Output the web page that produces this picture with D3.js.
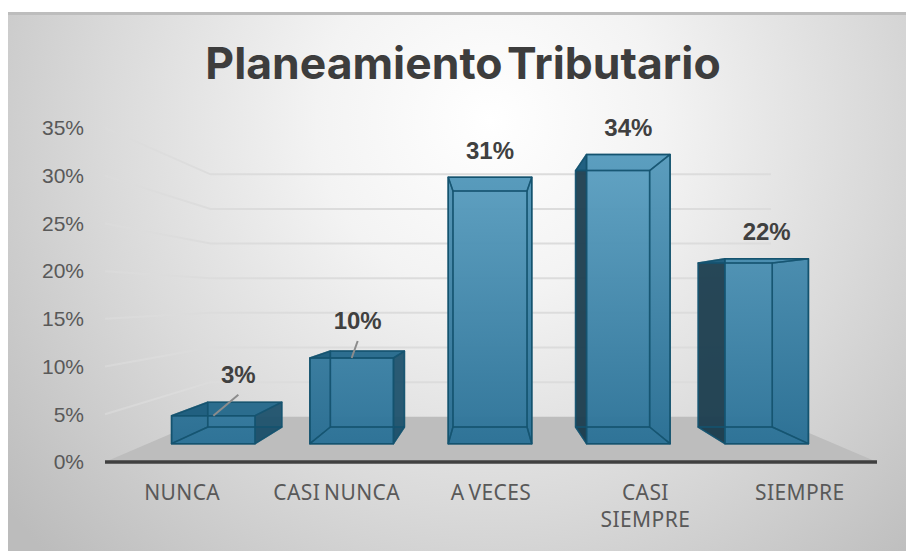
<!DOCTYPE html>
<html>
<head>
<meta charset="utf-8">
<script src="https://cdn.jsdelivr.net/npm/d3@7"></script>
<style>
    html, body { margin: 0; padding: 0; background: #fff; overflow: hidden; }
</style>
</head>
<body>
<div id="chart"></div>
<script>
const categories = ["NUNCA", "CASI NUNCA", "A VECES", "CASI SIEMPRE", "SIEMPRE"];
const values = [0.033, 0.101, 0.314, 0.341, 0.218];
const yTicks = [0, 0.05, 0.10, 0.15, 0.20, 0.25, 0.30, 0.35];

const width = 906;
const height = 551;

// Front plane of the fake 3D box, everything else is projected towards the vanishing point
const plot = { left: 105, right: 877, top: 128, bottom: 462 };
const vp = { x: 490, y: 297 };
const backScale = 0.726;    // back wall
const barFront = 0.889;     // depth of front of the bars
const barBack = 0.788;      // depth of back of the bars

const svg = d3.select("#chart").append("svg")
    .attr("width", width)
    .attr("height", height)
    .style("display", "block");

const x = d3.scaleBand().domain(categories).range([plot.left, plot.right]);
const xBar = d3.scaleBand().domain(categories).range([101, 879])
    .paddingInner(0.396).paddingOuter(0.198);
const y = d3.scaleLinear().domain([0, 0.35]).range([plot.bottom, plot.top]);
const pct = d3.format(".0%");

function project(px, py, s) {
    return [vp.x + (px - vp.x) * s, vp.y + (py - vp.y) * s];
}

const defs = svg.append("defs");

const bg = defs.append("radialGradient").attr("id", "bg")
    .attr("gradientUnits", "userSpaceOnUse")
    .attr("cx", 490).attr("cy", 120).attr("r", 620);
bg.append("stop").attr("offset", "0%").attr("stop-color", "#ffffff");
bg.append("stop").attr("offset", "28%").attr("stop-color", "#f3f3f3");
bg.append("stop").attr("offset", "62%").attr("stop-color", "#dadada");
bg.append("stop").attr("offset", "100%").attr("stop-color", "#bcbcbc");

const barGrad = defs.append("linearGradient").attr("id", "barFill")
    .attr("gradientUnits", "userSpaceOnUse")
    .attr("x1", 0).attr("x2", 0).attr("y1", 150).attr("y2", 450);
barGrad.append("stop").attr("offset", "0%").attr("stop-color", "#5fa2c3");
barGrad.append("stop").attr("offset", "100%").attr("stop-color", "#2c7297");

const gridFade = defs.append("linearGradient").attr("id", "gridFade")
    .attr("gradientUnits", "userSpaceOnUse")
    .attr("x1", plot.left).attr("x2", 210).attr("y1", 0).attr("y2", 0);
gridFade.append("stop").attr("offset", "0%").attr("stop-color", "#dcdcdc").attr("stop-opacity", 0.6);
gridFade.append("stop").attr("offset", "100%").attr("stop-color", "#dcdcdc");

svg.append("rect")
    .attr("x", 8).attr("y", 12)
    .attr("width", width - 8).attr("height", height - 12)
    .attr("fill", "url(#bg)");

svg.append("rect")
    .attr("x", 8).attr("y", 12)
    .attr("width", width - 8).attr("height", 3)
    .attr("fill", "#bdbdbd");

svg.append("text")
    .attr("x", 463).attr("y", 79)
    .attr("text-anchor", "middle")
    .attr("font-family", "Inter")
    .attr("font-weight", 700)
    .attr("font-size", 44.5)
    .attr("word-spacing", -6)
    .attr("fill", "#3d3d3d")
    .text("Planeamiento Tributario");

// Floor
const line = d3.line();
const floorCorners = [
    [plot.left, plot.bottom],
    [plot.right, plot.bottom],
    project(plot.right, plot.bottom, backScale),
    project(plot.left, plot.bottom, backScale)
];
svg.append("path")
    .attr("d", line(floorCorners) + "Z")
    .attr("fill", "#bdbdbd");

// Gridlines: left wall then back wall
svg.append("g")
    .selectAll("path")
    .data(yTicks.filter(d => d > 0))
    .enter()
    .append("path")
    .attr("d", d => line([
        [plot.left, y(d)],
        project(plot.left, y(d), backScale),
        project(plot.right, y(d), backScale)
    ]))
    .attr("fill", "none")
    .attr("stroke", "url(#gridFade)")
    .attr("stroke-width", 2);

// Y axis
const yAxis = svg.append("g")
    .attr("transform", "translate(84,0)")
    .call(d3.axisLeft(y).tickValues(yTicks).tickFormat(pct).tickSize(0).tickPadding(0));
yAxis.select(".domain").remove();
yAxis.selectAll("text")
    .attr("font-family", "Liberation Sans")
    .attr("font-size", 21)
    .attr("fill", "#595959");

// Bars, the front face goes nearly opaque on top of the others and
// the edges are drawn last so the rear ones still show through
function faces(d, i) {
    const x0 = xBar(d);
    const x1 = x0 + xBar.bandwidth();
    const y0 = y(0);
    const y1 = y(values[i]);
    const c = project;
    const f = barFront;
    const b = barBack;
    return [
        { pts: [c(x0, y0, b), c(x1, y0, b), c(x1, y1, b), c(x0, y1, b)], fill: "url(#barFill)", op: 0.6 },
        { pts: [c(x0, y0, f), c(x1, y0, f), c(x1, y0, b), c(x0, y0, b)], fill: "#1f5f80", op: 0.7 },
        { pts: [c(x0, y0, f), c(x0, y1, f), c(x0, y1, b), c(x0, y0, b)], fill: "#1c3b4a", op: 0.9 },
        { pts: [c(x1, y0, f), c(x1, y1, f), c(x1, y1, b), c(x1, y0, b)], fill: "#1a4c66", op: 0.85 },
        { pts: [c(x0, y1, f), c(x1, y1, f), c(x1, y1, b), c(x0, y1, b)], fill: "#1f6487", op: 0.85 },
        { pts: [c(x0, y0, f), c(x1, y0, f), c(x1, y1, f), c(x0, y1, f)], fill: "url(#barFill)", op: 0.93 }
    ];
}

const bars = svg.append("g")
    .selectAll("g")
    .data(categories)
    .enter()
    .append("g");

bars.selectAll("path.face")
    .data((d, i) => faces(d, i))
    .enter()
    .append("path")
    .attr("class", "face")
    .attr("d", d => line(d.pts) + "Z")
    .attr("fill", d => d.fill)
    .attr("fill-opacity", d => d.op)
    .attr("stroke", "none");

bars.selectAll("path.edge")
    .data((d, i) => faces(d, i))
    .enter()
    .append("path")
    .attr("class", "edge")
    .attr("d", d => line(d.pts) + "Z")
    .attr("fill", "none")
    .attr("stroke", "#14536f")
    .attr("stroke-opacity", (d, i) => i == 5 ? 1 : 0.75)
    .attr("stroke-width", 1.5)
    .attr("stroke-linejoin", "round");

// Axis line
svg.append("line")
    .attr("x1", plot.left).attr("x2", plot.right)
    .attr("y1", y(0)).attr("y2", y(0))
    .attr("stroke", "#404040")
    .attr("stroke-width", 3.5);

// Data labels, the two short bars have theirs pulled away with a leader line
const labelShift = { "NUNCA": [25, -41], "CASI NUNCA": [6, -37] };

function labelPos(d, i) {
    const p = project(xBar(d) + xBar.bandwidth() / 2, y(values[i]), barFront);
    const shift = labelShift[d] || [0, -27];
    return { top: p, x: p[0] + shift[0], y: p[1] + shift[1] };
}

svg.append("g")
    .selectAll("path")
    .data(categories.filter(d => labelShift[d]))
    .enter()
    .append("path")
    .attr("d", d => {
        const l = labelPos(d, categories.indexOf(d));
        return line([l.top, [l.x, l.y + 20]]);
    })
    .attr("stroke", "#8c8c8c")
    .attr("stroke-width", 2)
    .attr("fill", "none");

svg.append("g")
    .selectAll("text")
    .data(categories)
    .enter()
    .append("text")
    .attr("x", (d, i) => labelPos(d, i).x)
    .attr("y", (d, i) => labelPos(d, i).y)
    .attr("dy", "0.35em")
    .attr("text-anchor", "middle")
    .attr("font-family", "Liberation Sans")
    .attr("font-weight", "bold")
    .attr("font-size", 24)
    .attr("fill", "#404040")
    .text((d, i) => pct(values[i]));

// X axis
const xAxis = svg.append("g")
    .attr("transform", "translate(0,485)")
    .call(d3.axisBottom(x).tickSize(0).tickPadding(0));
xAxis.select(".domain").remove();
xAxis.selectAll("text")
    .attr("font-family", "Noto Sans")
    .attr("font-size", 21)
    .attr("letter-spacing", 0.4)
    .attr("word-spacing", -2)
    .attr("fill", "#595959")
    .call(wrap, 136);

function wrap(text, maxWidth) {
    text.each(function() {
        const t = d3.select(this);
        const words = t.text().split(/\s+/).reverse();
        let word;
        let current = [];
        let tspan = t.text(null).append("tspan").attr("x", 0).attr("dy", "0.71em");
        while (word = words.pop()) {
            current.push(word);
            tspan.text(current.join(" "));
            if (tspan.node().getComputedTextLength() > maxWidth) {
                current.pop();
                tspan.text(current.join(" "));
                current = [word];
                tspan = t.append("tspan").attr("x", 0).attr("dy", "1.3em").text(word);
            }
        }
    });
}
</script>
</body>
</html>
